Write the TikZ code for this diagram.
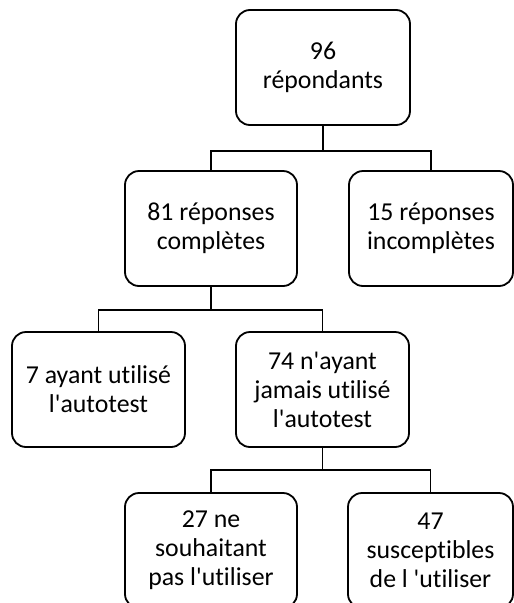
\documentclass[tikz,border=0pt]{standalone}
\usepackage{fontspec}
\setmainfont[Ligatures={TeXOff,NoCommon}]{Carlito}
\begin{document}
\begin{tikzpicture}[x=1pt,y=-1pt,
  box/.style={draw=black, line width=1.8pt, rounded corners=14pt, align=center,
    inner sep=0pt, minimum height=115pt, font=\fontsize{25.8}{29}\selectfont},
  link/.style={draw=black, line width=1.8pt}]
\useasboundingbox (0,0) rectangle (514,603);
\clip (0,0) rectangle (514,603);
\fill[white] (0,0) rectangle (514,603);
\node[box, minimum width=174pt] (top) at (323,67.5) {96\\répondants};
\node[box, minimum width=172pt] (b81) at (211,228.5) {81 réponses\\complètes};
\node[box, minimum width=164pt] (b15) at (431,228.5) {15 réponses\\incomplètes};
\node[box, minimum width=173pt] (b7) at (98.5,389.5) {7 ayant utilisé\\l'autotest};
\node[box, minimum width=173pt] (b74) at (322.5,389.5) {74 n'ayant\\jamais utilisé\\l'autotest};
\node[box, minimum width=172pt] (b27) at (211,550.5) {27 ne\\souhaitant\\pas l'utiliser};
\node[box, minimum width=165pt] (b47) at (430.5,550.5) {47\\susceptibles\\de l 'utiliser};
\draw[link] (top.south) -- ++(0,25) -| (b81.north);
\draw[link] (top.south) -- ++(0,25) -| (b15.north);
\draw[link] (b81.south) -- ++(0,23) -| (b7.north);
\draw[link] (b81.south) -- ++(0,23) -| (b74.north);
\draw[link] (b74.south) -- ++(0,22) -| (b27.north);
\draw[link] (b74.south) -- ++(0,22) -| (b47.north);
\end{tikzpicture}
\end{document}
